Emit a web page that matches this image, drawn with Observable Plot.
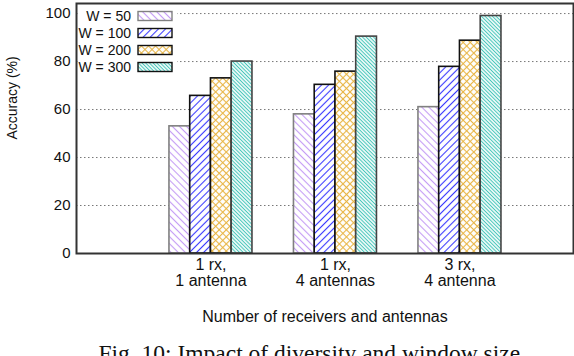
<!DOCTYPE html>
<html><head><meta charset="utf-8">
<script src="https://cdn.jsdelivr.net/npm/d3@7"></script>
<script src="https://cdn.jsdelivr.net/npm/@observablehq/plot@0.6"></script>
<style>body{margin:0;background:#fff} svg{display:block}</style>
</head><body><div id="chart"></div>
<script>
// ---- data ----
const categories = ["1 rx,\n1 antenna", "1 rx,\n4 antennas", "3 rx,\n4 antenna"];
const seriesNames = ["W = 50", "W = 100", "W = 200", "W = 300"];
const w50  = [53, 58, 61];
const w100 = [65.7, 70.3, 77.8];
const w200 = [73, 75.8, 88.7];
const w300 = [80, 90.4, 99];
const yTicks = [0, 20, 40, 60, 80, 100];
const yLabel = "Accuracy (%)";
const xLabel = "Number of receivers and antennas";
const captionText = "Fig. 10: Impact of diversity and window size";

// ---- styles ----
const seriesValues = [w50, w100, w200, w300];
const patColors = ["#c49cf5", "#3a3aff", "#e8b545", "#45c6ba"];
const strokeColors = ["#808080", "#111", "#111", "#444"];
const patSpec = [
  {angle: -45, s: 5.0, cross: false},
  {angle: 45, s: 5.0, cross: false},
  {angle: 45, s: 5.0, cross: true},
  {angle: -45, s: 2.6, cross: false}
];
const bw = 1 / 6;
const font = "'Liberation Sans', Arial, Helvetica, sans-serif";

const barMarks = seriesValues.map((vals, j) =>
  Plot.rectY(vals.map((v, i) => ({i, v})), {
    x1: d => d.i + (j - 2) * bw,
    x2: d => d.i + (j - 1) * bw,
    y: "v",
    fill: `url(#pat${j})`,
    stroke: strokeColors[j],
    strokeWidth: 1.6
  })
);

const plot = Plot.plot({
  width: 574,
  height: 356,
  marginLeft: 76,
  marginRight: 1,
  marginTop: 3,
  marginBottom: 103,
  style: {fontFamily: font, fontSize: "15px", color: "#111", background: "#fff"},
  x: {type: "linear", domain: [-1.08, 2.912]},
  y: {domain: [0, 104.2]},
  marks: [
    Plot.gridY(yTicks.slice(1), {stroke: "#777", strokeOpacity: 1, strokeDasharray: "1.5,2.5", strokeWidth: 1}),
    ...barMarks,
    Plot.frame({stroke: "#333", strokeWidth: 2}),
    Plot.axisY({ticks: yTicks, tickSize: 0, tickPadding: 6, label: null, fontSize: 15}),
    Plot.axisX({ticks: [0, 1, 2], tickSize: 0, tickPadding: 5, tickFormat: i => categories[i], label: null, fontSize: 16, lineHeight: 1.0}),
    Plot.text([yLabel], {frameAnchor: "left", rotate: -90, dx: -64, dy: 11, fontSize: 14, fill: "#111"}),
    Plot.text([xLabel], {frameAnchor: "bottom", lineAnchor: "top", dy: 57, fontSize: 16, fill: "#111"}),
    Plot.text([captionText], {frameAnchor: "bottom-left", lineAnchor: "top", textAnchor: "start", dx: 22, dy: 91, fontSize: 23.5, fill: "#111", fontFamily: "'Liberation Serif', 'Times New Roman', serif"})
  ]
});

// patterns
const svg = d3.select(plot);
const defs = svg.insert("defs", ":first-child");
patSpec.forEach((p, j) => {
  const pat = defs.append("pattern")
    .attr("id", `pat${j}`)
    .attr("patternUnits", "userSpaceOnUse")
    .attr("width", p.s).attr("height", p.s)
    .attr("patternTransform", `rotate(${p.angle})`);
  pat.append("rect").attr("width", p.s).attr("height", p.s).attr("fill", "#fff");
  pat.append("line").attr("x1", p.s / 2).attr("x2", p.s / 2).attr("y1", 0).attr("y2", p.s)
    .attr("stroke", patColors[j]).attr("stroke-width", 1.1);
  if (p.cross) pat.append("line").attr("y1", p.s / 2).attr("y2", p.s / 2).attr("x1", 0).attr("x2", p.s)
    .attr("stroke", patColors[j]).attr("stroke-width", 1.1);
});

// legend
const frameLeft = 76, frameTop = 3;
const lg = svg.append("g").attr("font-family", font).attr("font-size", 14);
lg.append("rect").attr("x", frameLeft + 4).attr("y", frameTop + 2).attr("width", 97).attr("height", 72).attr("fill", "#fff");
seriesNames.forEach((name, j) => {
  const cy = frameTop + 13 + j * 17;
  lg.append("text").attr("x", frameLeft + 55).attr("y", cy).attr("dy", "0.35em")
    .attr("text-anchor", "end").attr("fill", "#111").text(name);
  lg.append("rect").attr("x", frameLeft + 62).attr("y", cy - 4.5).attr("width", 34).attr("height", 9)
    .attr("fill", `url(#pat${j})`).attr("stroke", j === 0 ? "#808080" : "#111").attr("stroke-width", 1.4);
});

document.getElementById("chart").appendChild(plot);
</script>
</body></html>
